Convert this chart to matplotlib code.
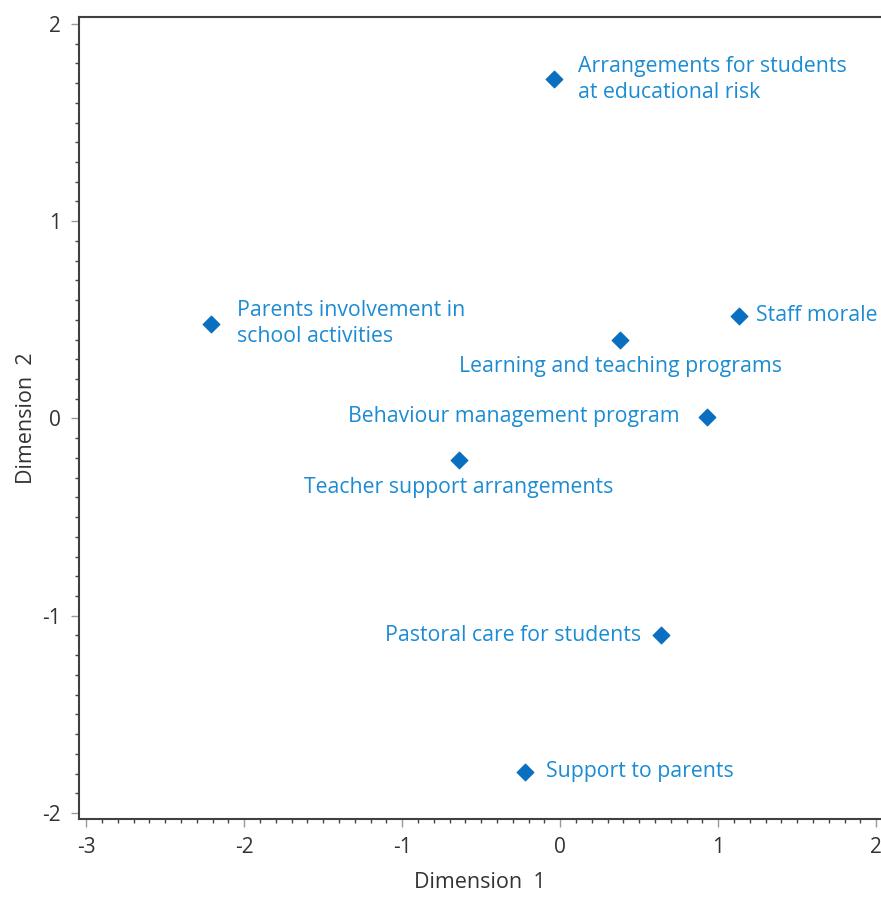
import matplotlib
matplotlib.use("Agg")
import matplotlib.pyplot as plt
from matplotlib.ticker import MultipleLocator

# Данные: координаты элементов в двумерном пространстве
labels = [
    "Arrangements for students\nat educational risk",
    "Parents involvement in\nschool activities",
    "Staff morale",
    "Learning and teaching programs",
    "Behaviour management program",
    "Teacher support arrangements",
    "Pastoral care for students",
    "Support to parents",
]
dim1 = [-0.04, -2.21, 1.13, 0.38, 0.93, -0.64, 0.64, -0.22]
dim2 = [1.72, 0.48, 0.52, 0.40, 0.01, -0.21, -1.10, -1.79]

# Смещения подписей (в пикселях) и выравнивание
offsets = [(24, 0), (26, 0), (17, 0), (0, -27), (-28, 0), (0, -28), (-20, 0), (21, 0)]
aligns = ["left", "left", "left", "center", "right", "center", "right", "left"]

plt.rcParams['font.family'] = ['Open Sans', 'DejaVu Sans']
plt.rcParams['axes.unicode_minus'] = False

fig = plt.figure(figsize=(8.81, 8.97), dpi=100)
ax = fig.add_axes([0.0897, 0.087, 0.9103, 0.894])

marker_color = '#0a6fc1'
text_color = '#1b8bd3'

ax.scatter(dim1, dim2, marker='D', s=70, color=marker_color, zorder=3)
for x, y, lab, off, ha in zip(dim1, dim2, labels, offsets, aligns):
    ax.annotate(lab, (x, y), xytext=off, textcoords='offset pixels',
                ha=ha, va='center', color=text_color, fontsize=15.3,
                linespacing=1.33)

ax.set_xlim(-3.045, 2.03)
ax.set_ylim(-2.03, 2.035)
ax.xaxis.set_major_locator(MultipleLocator(1))
ax.xaxis.set_minor_locator(MultipleLocator(0.1))
ax.yaxis.set_major_locator(MultipleLocator(1))
ax.yaxis.set_minor_locator(MultipleLocator(0.1))
ax.tick_params(which='major', length=6, width=1, color='#999999', labelsize=15,
               labelcolor='#333333', pad=7)
ax.tick_params(which='minor', length=3, width=1, color='#444444')
for s in ax.spines.values():
    s.set_color('#404040')
    s.set_linewidth(1.5)
ax.spines['right'].set_visible(False)

ax.set_xlabel('Dimension  1', fontsize=15.5, color='#333333', labelpad=10)
ax.set_ylabel('Dimension  2', fontsize=15.5, color='#333333', labelpad=4)

fig.savefig('out.png', dpi=100)
